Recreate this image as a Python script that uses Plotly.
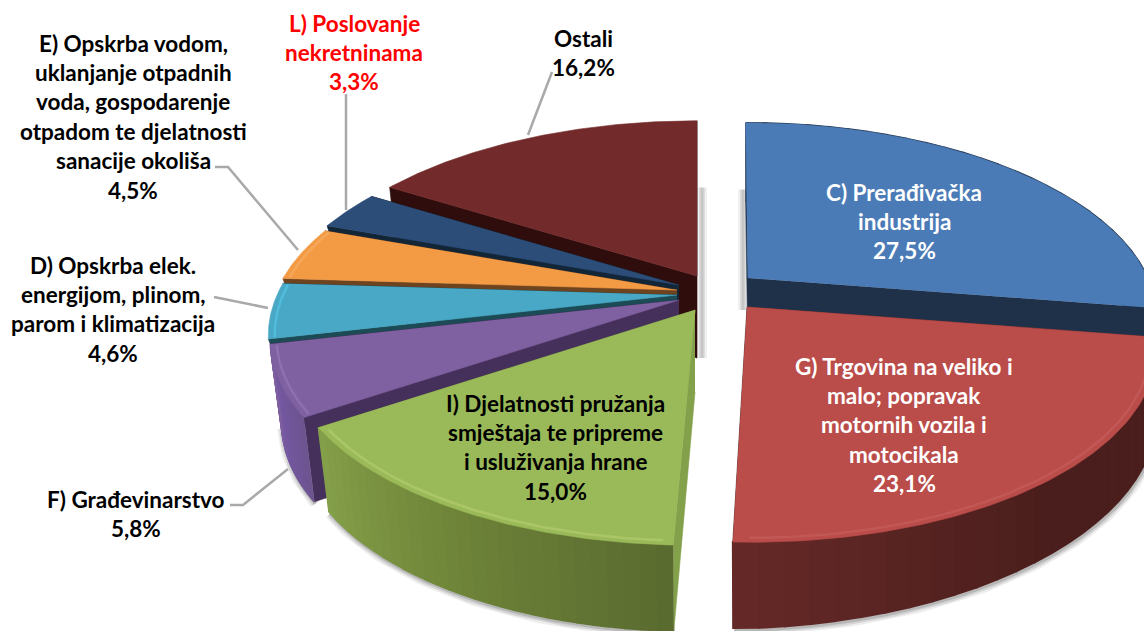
import numpy as np
import plotly.graph_objects as go

# ---- data ----
categories = ["C) Prerađivačka industrija",
              "G) Trgovina na veliko i malo; popravak motornih vozila i motocikala",
              "I) Djelatnosti pružanja smještaja te pripreme i usluživanja hrane",
              "F) Građevinarstvo",
              "D) Opskrba elek. energijom, plinom, parom i klimatizacija",
              "E) Opskrba vodom, uklanjanje otpadnih voda, gospodarenje otpadom te djelatnosti sanacije okoliša",
              "L) Poslovanje nekretninama",
              "Ostali"]
shares = [27.5, 23.1, 15.0, 5.8, 4.6, 4.5, 3.3, 16.2]
value_labels = ["27,5%", "23,1%", "15,0%", "5,8%", "4,6%", "4,5%", "3,3%", "16,2%"]
label_lines = [["C) Prerađivačka", "industrija"],
               ["G) Trgovina na veliko i", "malo; popravak", "motornih vozila i", "motocikala"],
               ["I) Djelatnosti pružanja", "smještaja te pripreme", "i usluživanja hrane"],
               ["F) Građevinarstvo"],
               ["D) Opskrba elek.", "energijom, plinom,", "parom i klimatizacija"],
               ["E) Opskrba vodom,", "uklanjanje otpadnih", "voda, gospodarenje", "otpadom te djelatnosti", "sanacije okoliša"],
               ["L) Poslovanje", "nekretninama"],
               ["Ostali"]]

# ---- styles / layout ----
W, H = 1144, 631
R, RY, K = 400.0, 187.0, 0.205
apex = [(748, 278), (747, 307), (695, 310), (679, 300), (677, 295), (677, 290), (679, 285), (697, 276)]
skew = [0.015, 0.02, -0.012, 0, 0, 0, 0, 0]
depth = [1, 1, 1, 1, 0.4, 0.4, 0.4, 1]
has_outer = [True, True, True, True, False, False, False, False]
top_col = ["#4b7bb6", "#ba4c4a", "#9aba59", "#7f60a0", "#48a8c5", "#f39a45", "#2c4d78", "#722a2a"]
side_col = ["#1f3148", "#4a1e1c", "#83a04a", "#44305a", "#1c4a55", "#6e4420", "#122638", "#2f0d0d"]
rim_col = [None, "#c25856", "#aac666", "#8c70b0", "#52bcdc", "#f6a758", None, None]
wall_a = ["#1f3148", "#4a1e1c", "#5a6b30", "#6e5590", "#3d98b4", "#c87c34", "#1f3a5c", "#2f0d0d"]
wall_mid = ["#1f3148", "#4a1e1c", "#6f8439", "#7458a0", "#3d98b4", "#c87c34", "#1f3a5c", "#2f0d0d"]
wall_b = ["#1f3148", "#652a28", "#85a04a", "#7f60a0", "#3d98b4", "#c87c34", "#1f3a5c", "#2f0d0d"]
text_col = ["white", "white", "black", "black", "black", "black", "#ff0000", "black"]
text_pos = [(904, 192), (904, 366), (555, 403), (136, 499), (113, 265), (133, 43), (354, 23), (583, 38)]
LINE_H = 29.4
FONT = "Lato, Carlito, 'Open Sans', sans-serif"
FONT_SIZE = 22.5
leaders = {3: [(230, 505), (243, 505), (288, 469)],
           4: [(214, 297), (268, 308)],
           5: [(215, 167), (228, 167), (298, 250)],
           6: [(346, 94), (346, 210)],
           7: [(552, 72), (528, 135)]}
draw_order = [7, 6, 5, 4, 3, 2, 0, 1]


def hex2rgb(c):
    return np.array([int(c[i:i + 2], 16) for i in (1, 3, 5)], float)


def mix(a, b, t):
    v = hex2rgb(a) * (1 - t) + hex2rgb(b) * t
    return "rgb(%d,%d,%d)" % tuple(v)


def top(i, r, th):
    a = apex[i]
    u, v = r * np.sin(th), r * np.cos(th)
    s = 1 / (1 + K * v)
    y = a[1] - RY * v * s
    return a[0] + R * u * s + skew[i] * (y - a[1]), y


def bottom(i, r, th):
    a = apex[i]
    u, v = r * np.sin(th), r * np.cos(th)
    x, y = top(i, r, th)
    d = (82 - 4 * v - 17 * np.maximum(u, 0)) * depth[i]
    f = np.where(u < 0, 0.972, 1.0)
    return a[0] + (x - a[0]) * f, y + d


fig = go.Figure()


def poly(xs, ys, col, w=0.6):
    fig.add_trace(go.Scatter(x=list(xs), y=list(ys), mode="lines", fill="toself", fillcolor=col,
                             line=dict(color=col, width=w), hoverinfo="skip", showlegend=False))


def stroke(xs, ys, col, w):
    fig.add_trace(go.Scatter(x=list(xs), y=list(ys), mode="lines", line=dict(color=col, width=w),
                             hoverinfo="skip", showlegend=False))


edges = np.radians(np.concatenate([[0], np.cumsum(shares)]) * 3.6)
rr = np.linspace(0, 1, 12)

for i in draw_order:
    a = apex[i]
    t0, t1 = edges[i], edges[i + 1]
    th = np.linspace(t0, t1, 90)

    # soft shadow under the outer wall
    if i in (1, 2, 3):
        bx, by = bottom(i, 1.0, th)
        for w, al in ((11, 0.07), (7, 0.10), (3, 0.14)):
            stroke(bx + 1, by + 2, "rgba(0,0,0,%.2f)" % al, w)
    # soft shadow beside the inner cut
    if i in (7, 0):
        e = t1 if i == 7 else t0
        off, drop = (5, 82) if i == 7 else (-5, 32)
        tx, ty = top(i, 0.55, e)
        for w, al in ((10, 0.06), (6, 0.08), (3, 0.10)):
            stroke([a[0] + off, a[0] + off], [ty + 4, a[1] + drop], "rgba(0,0,0,%.2f)" % al, w)

    # radial cut walls
    for e in (t0, t1):
        tx, ty = top(i, rr, np.full(12, e))
        bx, by = bottom(i, rr, np.full(12, e))
        poly(np.r_[tx, bx[::-1]], np.r_[ty, by[::-1]], side_col[i])

    # outer wall, as shaded strips
    if has_outer[i]:
        strips = 28
        ths = np.linspace(t0, t1, strips + 1)
        for j in range(strips):
            sub = np.linspace(ths[j], ths[j + 1], 4)
            tx, ty = top(i, 1.0, sub)
            bx, by = bottom(i, 1.0, sub)
            f = (j + 0.5) / strips
            c = mix(wall_a[i], wall_mid[i], f * 2) if f < 0.5 else mix(wall_mid[i], wall_b[i], f * 2 - 1)
            poly(np.r_[tx, bx[::-1]], np.r_[ty, by[::-1]], c, 1.8)

    # top surface
    tx, ty = top(i, 1.0, th)
    poly(np.r_[a[0], tx], np.r_[a[1], ty], top_col[i])

    # bevel along the rim
    if rim_col[i]:
        hx, hy = top(i, 0.985, th[2:-2])
        stroke(hx, hy, rim_col[i], 2.5)

# leader lines
for i, pts in leaders.items():
    stroke([p[0] for p in pts], [p[1] for p in pts], "#a9a9a9", 2.5)

fig.update_layout(width=W, height=H, margin=dict(l=0, r=0, t=0, b=0),
                  paper_bgcolor="white", plot_bgcolor="white", showlegend=False,
                  xaxis=dict(range=[0, W], visible=False, fixedrange=True),
                  yaxis=dict(range=[H, 0], visible=False, fixedrange=True))

# labels: one annotation per text line for exact line spacing
for i, lines in enumerate(label_lines):
    cx, cy = text_pos[i]
    for n, ln in enumerate(lines + [value_labels[i]]):
        fig.add_annotation(x=cx, y=cy + n * LINE_H, text="<b>%s</b>" % ln, showarrow=False,
                           xanchor="center", yanchor="middle",
                           font=dict(family=FONT, size=FONT_SIZE, color=text_col[i]))

fig.write_html("out.html", config={"displayModeBar": False},
               post_script="document.body.style.margin='0';document.body.style.overflow='hidden';")
